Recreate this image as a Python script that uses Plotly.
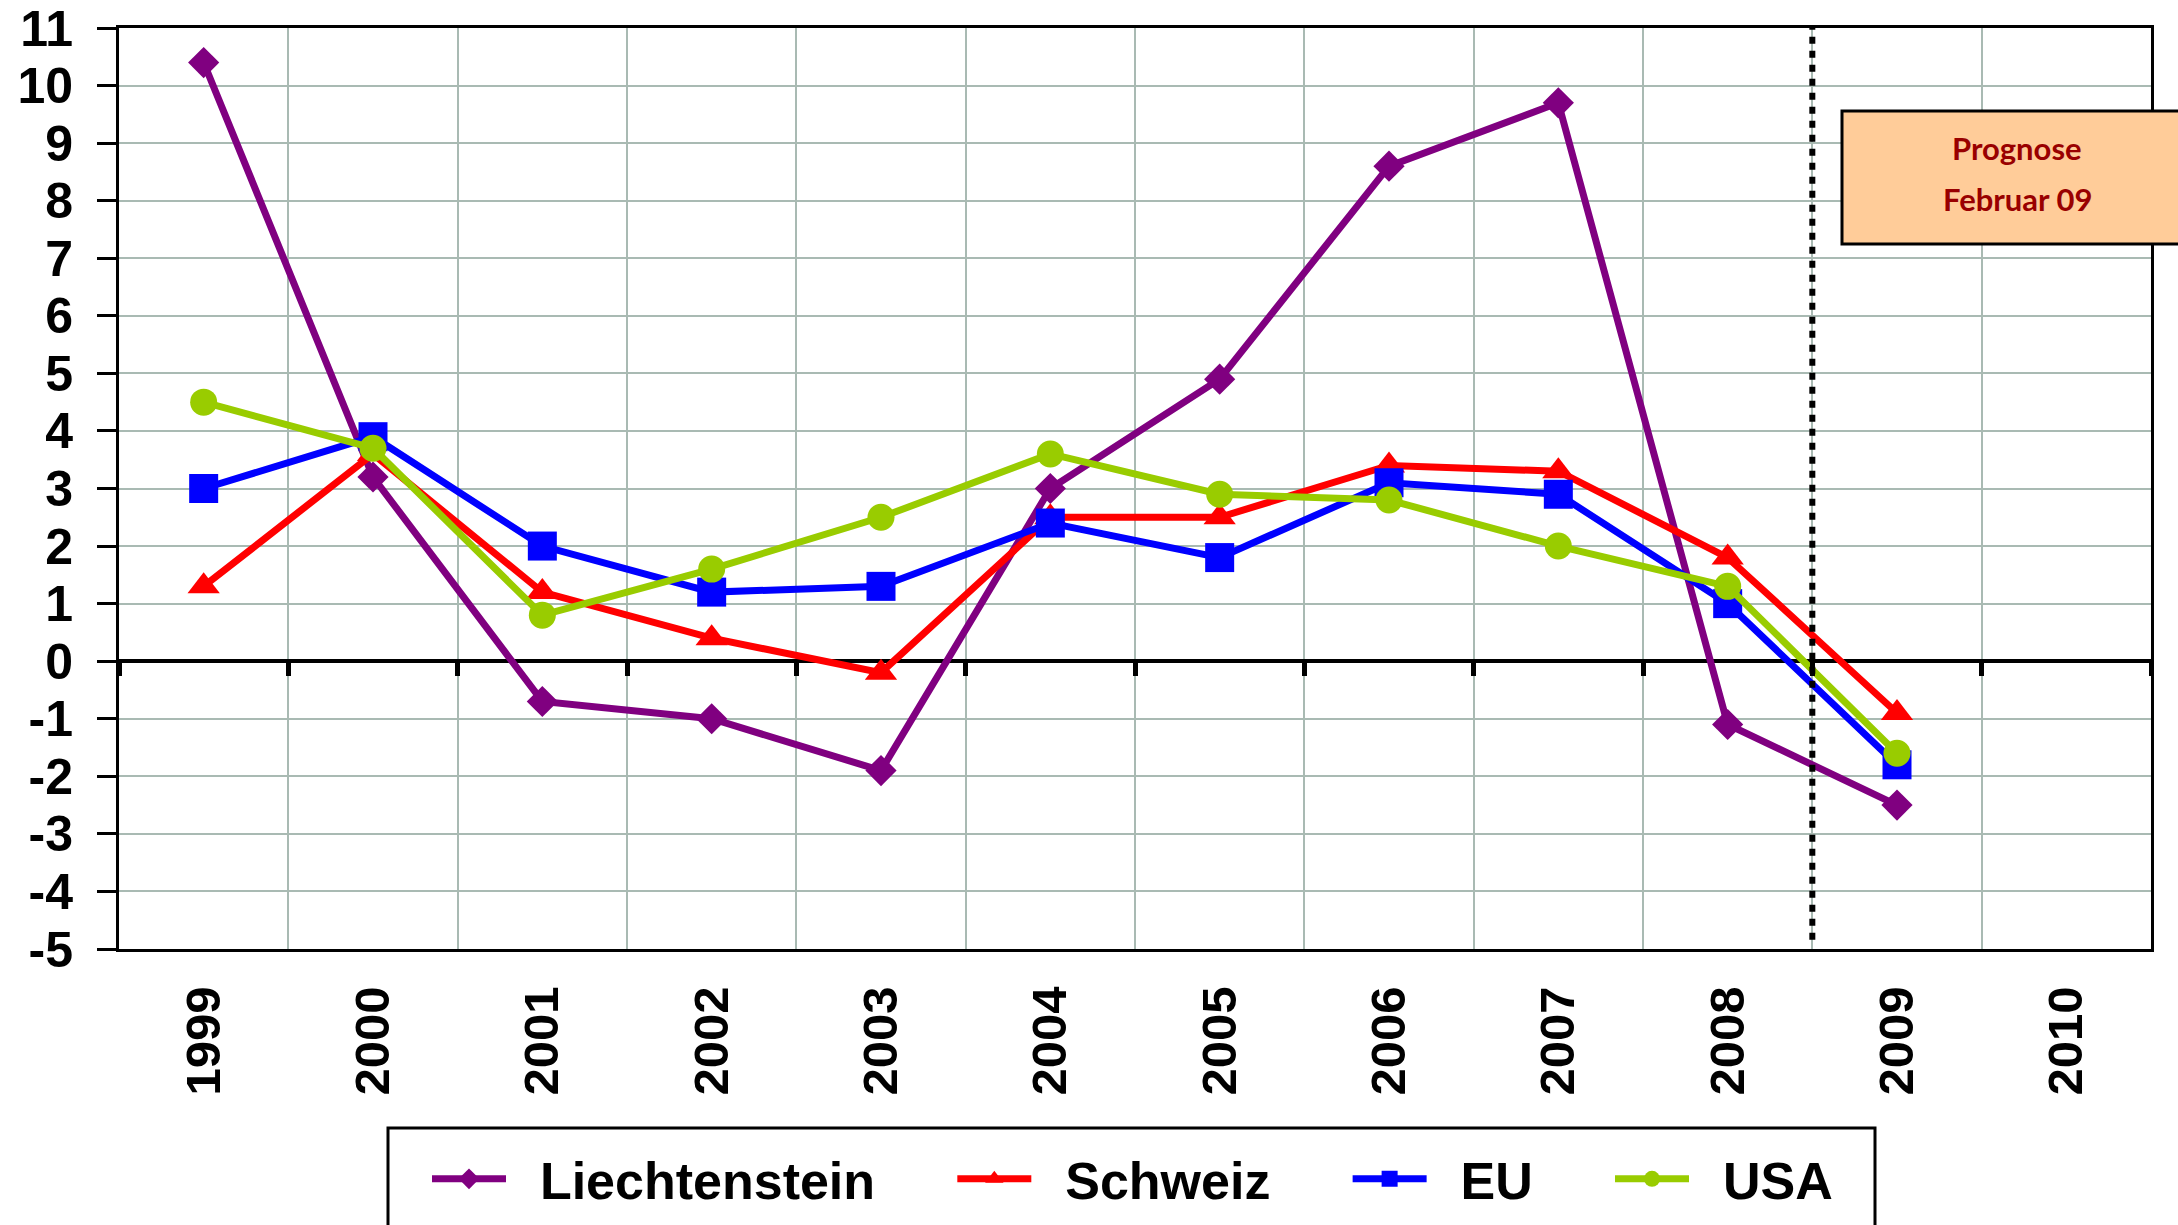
import plotly.graph_objects as go

years = ["1999", "2000", "2001", "2002", "2003", "2004", "2005", "2006", "2007", "2008", "2009", "2010"]
liechtenstein = [10.4, 3.2, -0.7, -1.0, -1.9, 3.0, 4.9, 8.6, 9.7, -1.1, -2.5, None]
schweiz = [1.3, 3.6, 1.2, 0.4, -0.2, 2.5, 2.5, 3.4, 3.3, 1.8, -0.9, None]
eu = [3.0, 3.9, 2.0, 1.2, 1.3, 2.4, 1.8, 3.1, 2.9, 1.0, -1.8, None]
usa = [4.5, 3.7, 0.8, 1.6, 2.5, 3.6, 2.9, 2.8, 2.0, 1.3, -1.6, None]
y_ticks = list(range(-5, 12))
y_ticktext = [str(v) for v in y_ticks]
forecast_label = ["Prognose", "Februar 09"]

xpos = list(range(len(years)))
bounds = [i - 0.5 for i in range(len(years) + 1)]
forecast_x = 9.5

FONT = "Liberation Sans, Arial, sans-serif"
GRID = "#A9BAB3"
NB = "\u00a0"

series = [
    ("Liechtenstein", liechtenstein, "#800080", "diamond", 24),
    ("Schweiz", schweiz, "#FF0000", "triangle-up", 28),
    ("EU", eu, "#0000FF", "square", 29),
    ("USA", usa, "#99CC00", "circle", 27),
]

fig = go.Figure()
for i, (name, vals, color, sym, size) in enumerate(series):
    label = NB * 2 + name + (NB * 5 if i < len(series) - 1 else "")
    fig.add_trace(go.Scatter(
        x=xpos, y=vals, name=label, mode="lines+markers",
        line=dict(color=color, width=7),
        marker=dict(symbol=sym, size=size, color=color, line=dict(width=0)),
        cliponaxis=False,
    ))

# helper trace carrying the axis with the tick marks on the zero line
fig.add_trace(go.Scatter(x=xpos, y=[None] * len(xpos), xaxis="x2", showlegend=False,
                         hoverinfo="skip", mode="lines"))

fig.update_layout(
    width=2178, height=1225,
    margin=dict(l=119, r=27, t=28, b=276, autoexpand=False),
    plot_bgcolor="white", paper_bgcolor="white",
    font=dict(family=FONT, color="black"),
    xaxis=dict(
        range=[-0.5, 11.5], tickmode="array", tickvals=xpos, ticktext=years,
        tickangle=-90, ticks="", showgrid=False, zeroline=False,
        showline=True, linecolor="black", linewidth=3, mirror=True,
        tickfont=dict(size=49, family=FONT, weight="bold"),
        ticklabelstandoff=15,
        minor=dict(tickmode="array", tickvals=bounds[1:-1], showgrid=True,
                   gridcolor=GRID, gridwidth=2, ticks=""),
    ),
    xaxis2=dict(
        range=[-0.5, 11.5], overlaying="x", anchor="free", position=5 / 16,
        tickmode="array", tickvals=bounds, ticks="outside", ticklen=14,
        tickwidth=5, tickcolor="black", showticklabels=False, showgrid=False,
        zeroline=False, showline=False,
    ),
    yaxis=dict(
        range=[-5, 11], tickmode="array", tickvals=y_ticks, ticktext=y_ticktext,
        ticks="outside", ticklen=19, tickwidth=3, tickcolor="black",
        showline=True, linecolor="black", linewidth=3, mirror=True,
        showgrid=True, gridcolor=GRID, gridwidth=2,
        zeroline=True, zerolinecolor="black", zerolinewidth=4,
        tickfont=dict(size=50, family=FONT, weight="bold"),
        ticklabelstandoff=14,
    ),
    legend=dict(
        orientation="h", x=(427 - 119) / 2032, xanchor="left",
        y=(949 - 1179) / 921, yanchor="middle",
        font=dict(size=52, family=FONT, weight="bold"),
        bgcolor="rgba(0,0,0,0)", borderwidth=0, itemwidth=74,
        traceorder="normal",
    ),
    showlegend=True,
)

# legend frame
fig.add_shape(type="rect", xref="paper", yref="paper",
              x0=(388 - 119) / 2032, x1=(1875 - 119) / 2032,
              y0=-0.40, y1=(949 - 1128) / 921,
              line=dict(color="black", width=3), fillcolor="white", layer="below")

# forecast divider
fig.add_shape(type="line", xref="x", yref="paper", x0=forecast_x, x1=forecast_x,
              y0=0.01, y1=1.0, line=dict(color="black", width=6, dash="7px,7px"))

# forecast box
fig.add_shape(type="rect", xref="paper", yref="paper",
              x0=(1842 - 119) / 2032, x1=(2320 - 119) / 2032,
              y0=(949 - 244) / 921, y1=(949 - 111) / 921,
              line=dict(color="black", width=3), fillcolor="#FFCC99")
for txt, py in zip(forecast_label, [148, 199]):
    fig.add_annotation(xref="paper", yref="paper", x=(2017 - 119) / 2032,
                       y=(949 - py) / 921, text=txt, showarrow=False,
                       font=dict(family="Lato, Open Sans, sans-serif", size=31,
                                 color="#990000", weight="bold"),
                       xanchor="center", yanchor="middle")

fig.write_html("out.html", config={"displayModeBar": False},
               post_script="document.body.style.margin='0';document.body.style.overflow='hidden';")
